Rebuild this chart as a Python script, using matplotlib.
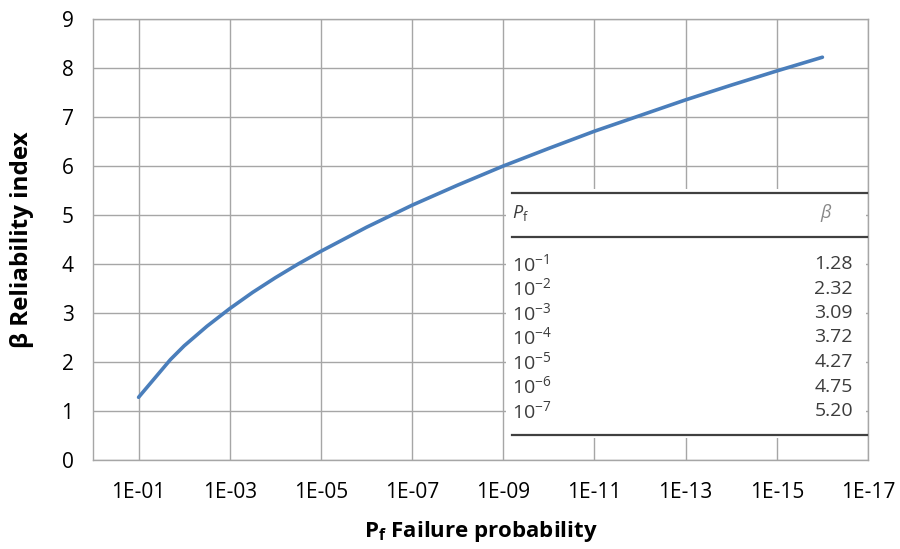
import math

import matplotlib
matplotlib.use("Agg")
import matplotlib.pyplot as plt
from matplotlib.patches import Rectangle
from matplotlib.ticker import FixedLocator, FuncFormatter, NullLocator

plt.rcParams["font.family"] = ["Open Sans", "DejaVu Sans"]
plt.rcParams["mathtext.fontset"] = "custom"
plt.rcParams["mathtext.rm"] = "Open Sans"
plt.rcParams["mathtext.it"] = "Open Sans:italic"
plt.rcParams["mathtext.bf"] = "Open Sans:bold"

# reliability index against failure probability
pf = [1e-1, 2e-2, 1e-2, 3.16e-3, 1e-3, 3.16e-4, 1e-4, 3.16e-5, 1e-5, 1e-6, 1e-7,
      1e-8, 1e-9, 1e-10, 1e-11, 1e-12, 1e-13, 1e-14, 1e-15, 1e-16]
beta = [1.28, 2.05, 2.33, 2.73, 3.09, 3.42, 3.72, 4.00, 4.26, 4.75, 5.20,
        5.61, 6.00, 6.36, 6.71, 7.03, 7.35, 7.65, 7.94, 8.22]

x_ticks = [1e-1, 1e-3, 1e-5, 1e-7, 1e-9, 1e-11, 1e-13, 1e-15, 1e-17]
y_ticks = list(range(0, 10))

# inset table
table_exp = [1, 2, 3, 4, 5, 6, 7]
table_beta = ["1.28", "2.32", "3.09", "3.72", "4.27", "4.75", "5.20"]

W, H = 900, 549
fig = plt.figure(figsize=(W / 100, H / 100), dpi=100)
ax = fig.add_axes([93 / W, (H - 460) / H, 775 / W, 441 / H])

grid_c = "#a6a6a6"
ax.set_xscale("log")
ax.set_xlim(1, 1e-17)
ax.set_ylim(0, 9)
ax.xaxis.set_major_locator(FixedLocator(x_ticks))
ax.xaxis.set_minor_locator(NullLocator())
ax.xaxis.set_major_formatter(FuncFormatter(lambda v, p: "1E-%02d" % round(-math.log10(v))))
ax.set_yticks(y_ticks)
ax.grid(True, color=grid_c, lw=1.0)
ax.set_axisbelow(True)
for s in ax.spines.values():
    s.set_color(grid_c)
    s.set_linewidth(1.0)
ax.tick_params(length=0, labelsize=15, colors="black")
ax.tick_params(axis="x", pad=16)
ax.tick_params(axis="y", pad=14)

ax.plot(pf, beta, color="#4a7ebb", lw=2.6, solid_capstyle="round",
        solid_joinstyle="round", zorder=3)

ax.set_ylabel("β Reliability index", fontsize=17.5, fontweight="bold", labelpad=20)
ax.set_xlabel(r"$\mathbf{P}_\mathbf{f}$ Failure probability", fontsize=16,
              fontweight="bold", labelpad=11)

# table panel on top of the grid
def fx(px):
    return (px - 93) / 775

def fy(py):
    return (460 - py) / 441

ax.add_patch(Rectangle((fx(506), fy(438)), fx(866) - fx(506), fy(189) - fy(438),
                       transform=ax.transAxes, facecolor="white", edgecolor="none", zorder=4))
line_c = "#404040"
for py in (193, 237, 435):
    ax.plot([fx(512), fx(867)], [fy(py), fy(py)], transform=ax.transAxes,
            color=line_c, lw=1.6, zorder=5, clip_on=False)

txt_c = "#3c3c3c"
ax.text(fx(512), fy(213), r"$P_\mathrm{f}$", transform=ax.transAxes, fontsize=13,
        color=txt_c, ha="left", va="center", zorder=6)
ax.text(fx(826), fy(213), r"$\beta$", transform=ax.transAxes, fontsize=13,
        color="#888888", ha="center", va="center", zorder=6)
for i, (e, b) in enumerate(zip(table_exp, table_beta)):
    py = 264 + i * 24.5
    ax.text(fx(512), fy(py), r"$10^{-%d}$" % e, transform=ax.transAxes, fontsize=14,
            color=txt_c, ha="left", va="center", zorder=6)
    ax.text(fx(853), fy(py), b, transform=ax.transAxes, fontsize=14,
            color=txt_c, ha="right", va="center", zorder=6)

fig.savefig("out.png", dpi=100)
